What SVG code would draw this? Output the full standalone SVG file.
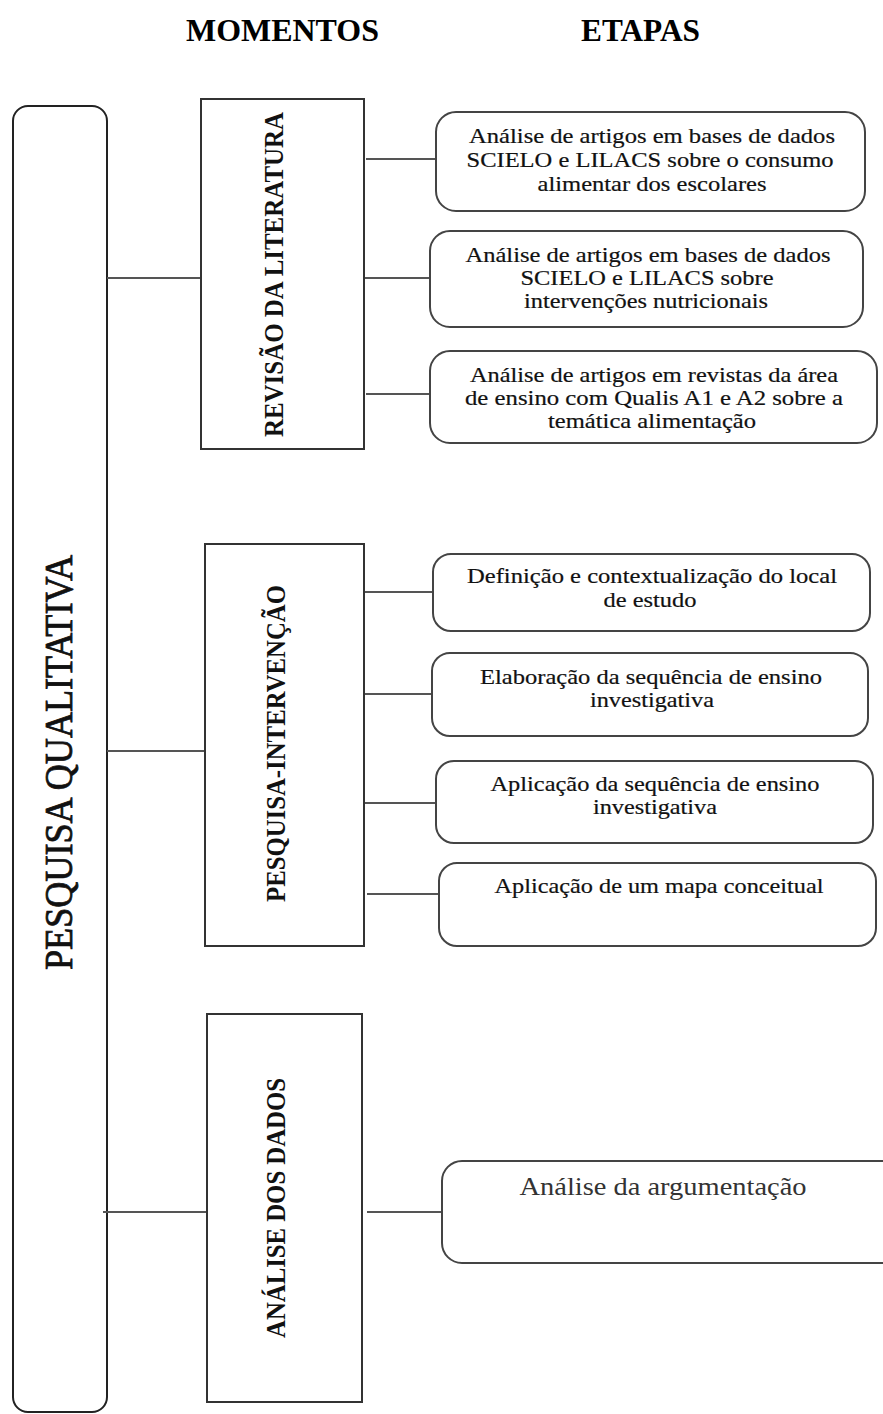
<svg xmlns="http://www.w3.org/2000/svg" width="883" height="1414" viewBox="0 0 883 1414">
<style>
.hdr{font-family:"Liberation Serif","Times New Roman",serif;font-weight:bold;font-size:31px;fill:#000;text-anchor:middle}
.vt{font-family:"Liberation Serif","Times New Roman",serif;font-weight:bold;font-size:28px;fill:#111;text-anchor:middle}
.vq{font-family:"Liberation Serif","Times New Roman",serif;font-size:40px;fill:#111;text-anchor:middle;stroke:#111;stroke-width:0.8}
.t{font-family:"Liberation Serif","Times New Roman",serif;font-size:21px;fill:#111;text-anchor:middle;stroke:#111;stroke-width:0.2}
.t2{font-family:"Liberation Serif","Times New Roman",serif;font-size:25px;fill:#333;text-anchor:middle}
.mom{fill:#fff;stroke:#333;stroke-width:2}
.step{fill:#fff;stroke:#444;stroke-width:2}
.conn line{stroke:#555;stroke-width:2}
</style>
<rect width="883" height="1414" fill="#fff"/>
<g id="headers">
<text class="hdr" x="282.5" y="41" textLength="193" lengthAdjust="spacingAndGlyphs">MOMENTOS</text>
<text class="hdr" x="640.5" y="41" textLength="119" lengthAdjust="spacingAndGlyphs">ETAPAS</text>
</g>
<g id="pesquisa-qualitativa">
<rect x="13" y="106" width="94" height="1306" rx="15" fill="#fff" stroke="#222" stroke-width="2"/>
<text class="vq" transform="translate(72,762.5) rotate(-90)" textLength="415" lengthAdjust="spacingAndGlyphs">PESQUISA QUALITATIVA</text>
</g>
<g class="conn" id="connectors">
<line x1="107" y1="278" x2="201" y2="278"/>
<line x1="107" y1="751" x2="205" y2="751"/>
<line x1="103" y1="1212" x2="207" y2="1212"/>
<line x1="366" y1="159" x2="436" y2="159"/>
<line x1="362" y1="278" x2="430" y2="278"/>
<line x1="366" y1="394" x2="430" y2="394"/>
<line x1="362" y1="592" x2="433" y2="592"/>
<line x1="362" y1="694" x2="432" y2="694"/>
<line x1="364" y1="803" x2="436" y2="803"/>
<line x1="367" y1="894" x2="439" y2="894"/>
<line x1="367" y1="1212" x2="442" y2="1212"/>
</g>
<g id="revisao">
<rect class="mom" x="201" y="99" width="163" height="350"/>
<text class="vt" transform="translate(283,274.5) rotate(-90)" textLength="325" lengthAdjust="spacingAndGlyphs">REVISÃO DA LITERATURA</text>
</g>
<g id="intervencao">
<rect class="mom" x="205" y="544" width="159" height="402"/>
<text class="vt" transform="translate(285,743.5) rotate(-90)" textLength="317" lengthAdjust="spacingAndGlyphs">PESQUISA-INTERVENÇÃO</text>
</g>
<g id="analise">
<rect class="mom" x="207" y="1014" width="155" height="388"/>
<text class="vt" transform="translate(285,1208) rotate(-90)" textLength="260" lengthAdjust="spacingAndGlyphs">ANÁLISE DOS DADOS</text>
</g>
<g id="etapa1">
<rect class="step" x="436" y="112" width="429" height="99" rx="20"/>
<text class="t" x="652" y="143" textLength="366" lengthAdjust="spacingAndGlyphs">Análise de artigos em bases de dados</text>
<text class="t" x="650" y="167" textLength="367" lengthAdjust="spacingAndGlyphs">SCIELO e LILACS sobre o consumo</text>
<text class="t" x="652" y="191" textLength="229" lengthAdjust="spacingAndGlyphs">alimentar dos escolares</text>
</g>
<g id="etapa2">
<rect class="step" x="430" y="231" width="433" height="96" rx="20"/>
<text class="t" x="648" y="262" textLength="365" lengthAdjust="spacingAndGlyphs">Análise de artigos em bases de dados</text>
<text class="t" x="647" y="285" textLength="253" lengthAdjust="spacingAndGlyphs">SCIELO e LILACS sobre</text>
<text class="t" x="646" y="308" textLength="244" lengthAdjust="spacingAndGlyphs">intervenções nutricionais</text>
</g>
<g id="etapa3">
<rect class="step" x="430" y="351" width="447" height="92" rx="20"/>
<text class="t" x="654" y="382" textLength="368" lengthAdjust="spacingAndGlyphs">Análise de artigos em revistas da área</text>
<text class="t" x="654" y="405" textLength="378" lengthAdjust="spacingAndGlyphs">de ensino com Qualis A1 e A2 sobre a</text>
<text class="t" x="652" y="428" textLength="208" lengthAdjust="spacingAndGlyphs">temática alimentação</text>
</g>
<g id="etapa4">
<rect class="step" x="433" y="554" width="437" height="77" rx="18"/>
<text class="t" x="652" y="583" textLength="370" lengthAdjust="spacingAndGlyphs">Definição e contextualização do local</text>
<text class="t" x="650" y="607" textLength="93" lengthAdjust="spacingAndGlyphs">de estudo</text>
</g>
<g id="etapa5">
<rect class="step" x="432" y="653" width="436" height="83" rx="18"/>
<text class="t" x="651" y="684" textLength="342" lengthAdjust="spacingAndGlyphs">Elaboração da sequência de ensino</text>
<text class="t" x="652" y="707" textLength="124" lengthAdjust="spacingAndGlyphs">investigativa</text>
</g>
<g id="etapa6">
<rect class="step" x="436" y="761" width="437" height="82" rx="18"/>
<text class="t" x="655" y="791" textLength="329" lengthAdjust="spacingAndGlyphs">Aplicação da sequência de ensino</text>
<text class="t" x="655" y="814" textLength="124" lengthAdjust="spacingAndGlyphs">investigativa</text>
</g>
<g id="etapa7">
<rect class="step" x="439" y="863" width="437" height="83" rx="18"/>
<text class="t" x="659" y="893" textLength="329" lengthAdjust="spacingAndGlyphs">Aplicação de um mapa conceitual</text>
</g>
<g id="etapa8">
<rect class="step" x="442" y="1161" width="460" height="102" rx="20"/>
<text class="t2" x="663" y="1195" textLength="287" lengthAdjust="spacingAndGlyphs">Análise da argumentação</text>
</g>
</svg>
